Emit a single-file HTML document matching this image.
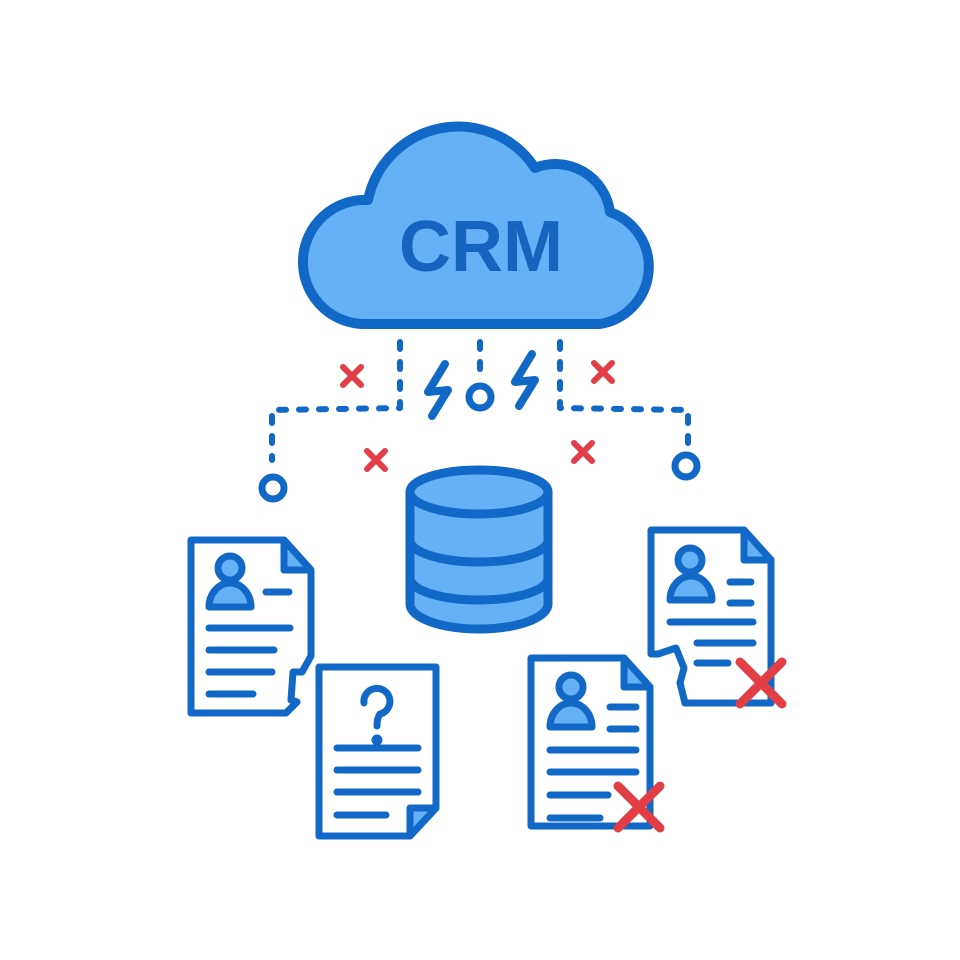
<!DOCTYPE html>
<html><head><style>html,body{margin:0;padding:0;background:#fff;width:960px;height:960px;overflow:hidden}</style></head>
<body>
<svg width="960" height="960" viewBox="0 0 960 960" xmlns="http://www.w3.org/2000/svg">
<g stroke-linecap="round" stroke-linejoin="round">
<path d="M362,324 A60,60 0 0 1 368,200 A92,92 0 0 1 535,168 A55,55 0 0 1 610,212 A58,58 0 0 1 600,324 Z" fill="#66b0f5" stroke="#1268c6" stroke-width="10"/>
<text x="481" y="271" text-anchor="middle" font-family="Liberation Sans, sans-serif" font-weight="bold" font-size="72" fill="#1664c0">CRM</text>
<g stroke="#1268c6" stroke-width="6" fill="none" stroke-dasharray="7,13">
<path d="M400,342 L400,408 L272,410 L272,460"/>
<path d="M560,342 L560,408 L688,410 L688,450"/>
<path d="M480,342 L480,378"/>
</g>
<g stroke="#1268c6" stroke-width="7" fill="#fff">
<circle cx="273" cy="488" r="11"/>
<circle cx="686" cy="466" r="11"/>
<circle cx="480" cy="397" r="11"/>
</g>
<g stroke="#1268c6" stroke-width="8" fill="none">
<path d="M445,364 L428,392 L448,390 L432,416"/>
<path d="M532,354 L515,382 L535,380 L519,406"/>
</g>
<g stroke="#e33d46" stroke-width="6">
<path d="M343,367 L361,385 M361,367 L343,385"/>
<path d="M367,451 L385,469 M385,451 L367,469"/>
<path d="M594,363 L612,381 M612,363 L594,381"/>
<path d="M574,443 L592,461 M592,443 L574,461"/>
</g>
<g stroke="#1268c6" stroke-width="9" fill="#66b0f5">
<path d="M410,492 L410,604 A69,25 0 0 0 548,604 L548,492 Z"/>
<path d="M410,540 A69,22 0 0 0 548,540" fill="none"/>
<path d="M410,578 A69,22 0 0 0 548,578" fill="none"/>
<ellipse cx="479" cy="492" rx="69" ry="22"/>
</g>
<g stroke="#1268c6" stroke-width="7">
<path d="M191,540 L284,540 L311,570 L311,656 L302,672 L293,672 L291,700 L297,702 L286,713 L191,713 Z" fill="#fff"/>
<path d="M284,540 L284,570 L311,570 Z" fill="#66b0f5"/>
<circle cx="230" cy="568" r="12" fill="#66b0f5"/>
<path d="M209,607 A21,24 0 0 1 251,607 Z" fill="#66b0f5"/>
<path d="M266,592 L289,592 M209,628 L290,628 M209,650 L274,650 M209,672 L272,672 M209,694 L253,694" fill="none"/>
</g>
<g stroke="#1268c6" stroke-width="7">
<path d="M319,667 L436,667 L436,808 L410,836 L319,836 Z" fill="#fff"/>
<path d="M410,836 L410,808 L436,808 Z" fill="#66b0f5"/>
<path d="M364,703 A13,13 0 1 1 380,714 Q377,718 377,726" fill="none"/>
<circle cx="377" cy="740" r="2" fill="#1268c6"/>
<path d="M337,748 L418,748 M337,770 L418,770 M337,792 L418,792 M337,815 L386,815" fill="none"/>
</g>
<g stroke="#1268c6" stroke-width="7">
<path d="M531,658 L624,658 L650,687 L650,826 L531,826 Z" fill="#fff"/>
<path d="M624,658 L624,687 L650,687 Z" fill="#66b0f5"/>
<circle cx="571" cy="687" r="12" fill="#66b0f5"/>
<path d="M550,727 A21,24 0 0 1 592,727 Z" fill="#66b0f5"/>
<path d="M610,707 L636,707 M610,729 L636,729 M550,750 L636,750 M550,772 L636,772 M550,795 L608,795 M550,818 L600,818" fill="none"/>
</g>
<g stroke="#1268c6" stroke-width="7">
<path d="M651,530 L744,530 L771,560 L771,703 L685,703 L680,683 L684,668 L676,648 L658,654 L651,654 Z" fill="#fff"/>
<path d="M744,530 L744,560 L771,560 Z" fill="#66b0f5"/>
<circle cx="690" cy="560" r="12" fill="#66b0f5"/>
<path d="M670,600 A21,24 0 0 1 712,600 Z" fill="#66b0f5"/>
<path d="M730,582 L751,582 M730,603 L751,603 M670,622 L753,622 M697,643 L753,643 M697,663 L728,663" fill="none"/>
</g>
<g stroke="#e33d46" stroke-width="9">
<path d="M618,786 L660,828 M660,786 L618,828"/>
<path d="M740,662 L782,704 M782,662 L740,704"/>
</g>
</g>
</svg>
</body></html>
